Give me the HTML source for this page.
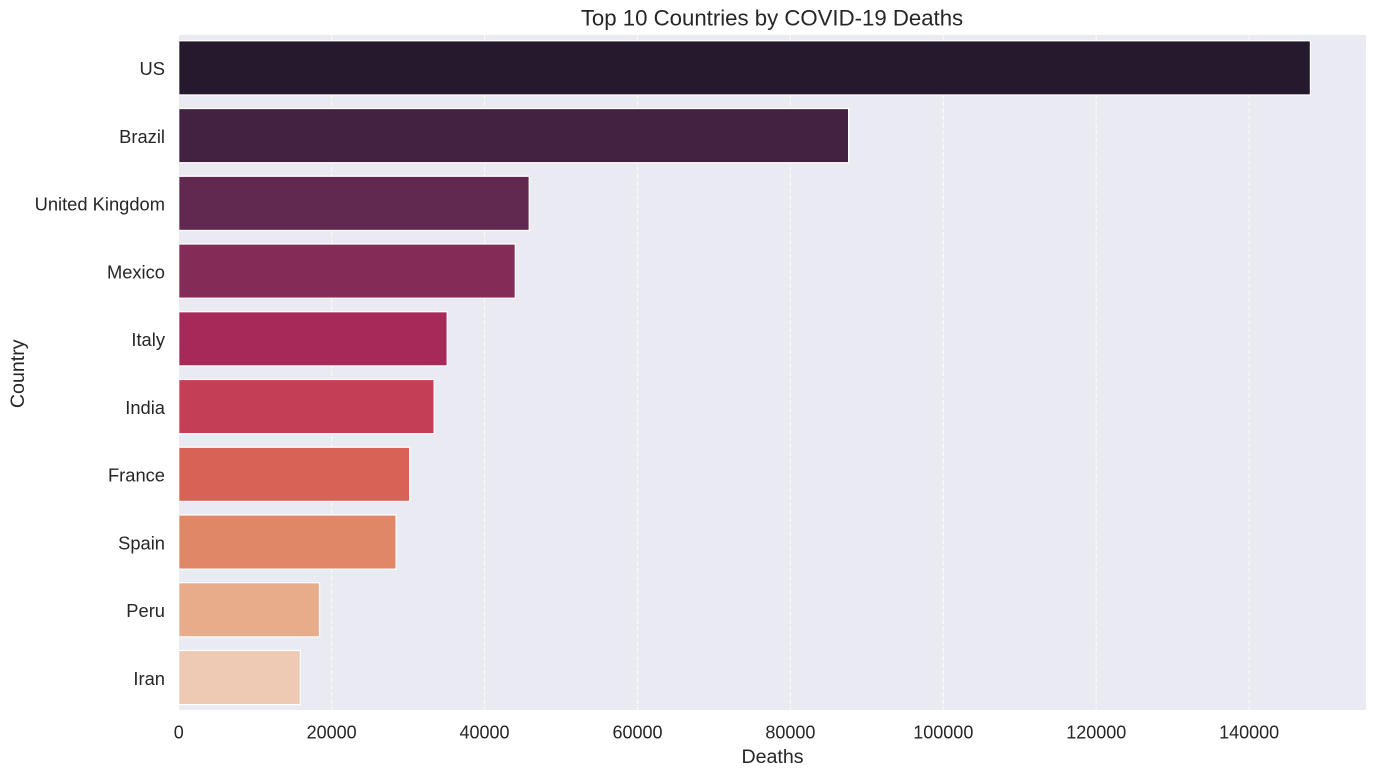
<!DOCTYPE html>
<html>
<head>
<meta charset="utf-8">
<style>
html,body{margin:0;padding:0;background:#fff;width:1376px;height:776px;overflow:hidden}
svg{display:block}
text{font-family:"Liberation Sans",Arial,sans-serif;fill:#262626}
</style>
</head>
<body>
<svg id="chart" width="1376" height="776" viewBox="0 0 1376 776" xmlns="http://www.w3.org/2000/svg">
  <rect x="179" y="35" width="1187" height="675" fill="#eaeaf2"/>
  <g id="grid"></g>
  <g id="bars"></g>
  <g id="yticks"></g>
  <g id="xticks"></g>
  <text x="772" y="25.5" text-anchor="middle" font-size="22.2">Top 10 Countries by COVID-19 Deaths</text>
  <text x="772.5" y="763" text-anchor="middle" font-size="19.6">Deaths</text>
  <text x="0" y="0" transform="translate(24,373.8) rotate(-90)" text-anchor="middle" font-size="19.6">Country</text>
</svg>
<script>
const categories = ["US","Brazil","United Kingdom","Mexico","Italy","India","France","Spain","Peru","Iran"];
const deaths = [148011,87618,45844,44022,35112,33408,30212,28432,18418,15912];
const colors = ["#24192d","#432241","#622950","#842b58","#a52a5a","#c43f56","#d96256","#e08768","#e8ac8b","#eecab5"];
const xTickValues = [0,20000,40000,60000,80000,100000,120000,140000];

const NS = "http://www.w3.org/2000/svg";
const plot = {left:178.7, right:1367, top:34, bottom:711.4, gridTop:35, gridBottom:710};
const xMax = Math.max.apply(null, deaths) * 1.05;
function xScale(v){ return plot.left + (v / xMax) * (plot.right - plot.left); }
function band(){ return (plot.bottom - plot.top) / categories.length; }
function yCenter(i){ return plot.top + band() * (i + 0.5); }

const grid = document.getElementById("grid");
const xticks = document.getElementById("xticks");
xTickValues.forEach(function(t){
  const x = xScale(t);
  if (t > 0) {
    const line = document.createElementNS(NS,"line");
    
    
    line.setAttribute("x1",x); line.setAttribute("x2",x);
    line.setAttribute("y1",plot.gridTop); line.setAttribute("y2",plot.gridBottom);
    line.setAttribute("stroke","#ffffff");
    line.setAttribute("stroke-width","1.2");
    line.setAttribute("stroke-dasharray","5.1 2.2");
    line.setAttribute("stroke-opacity","0.7");
    grid.appendChild(line);
  }
  const label = document.createElementNS(NS,"text");
  
  
  label.setAttribute("x",x);
  label.setAttribute("y",738.6);
  label.setAttribute("text-anchor","middle");
  label.setAttribute("font-size","18");
  label.textContent = String(t);
  xticks.appendChild(label);
});

const bars = document.getElementById("bars");
const yticks = document.getElementById("yticks");
categories.forEach(function(name,i){
  const h = band() * 0.8;
  const rect = document.createElementNS(NS,"rect");
  
  
  rect.setAttribute("x",xScale(0));
  rect.setAttribute("y",yCenter(i) - h/2);
  rect.setAttribute("width",xScale(deaths[i]) - xScale(0));
  rect.setAttribute("height",h);
  rect.setAttribute("fill",colors[i]);
  rect.setAttribute("stroke","#ffffff");
  rect.setAttribute("stroke-width","1.25");
  bars.appendChild(rect);
  const label = document.createElementNS(NS,"text");
  
  
  label.setAttribute("x",165);
  label.setAttribute("y",yCenter(i) + 7.3);
  label.setAttribute("text-anchor","end");
  label.setAttribute("font-size","18.33");
  label.textContent = name;
  yticks.appendChild(label);
});
</script>
</body>
</html>
